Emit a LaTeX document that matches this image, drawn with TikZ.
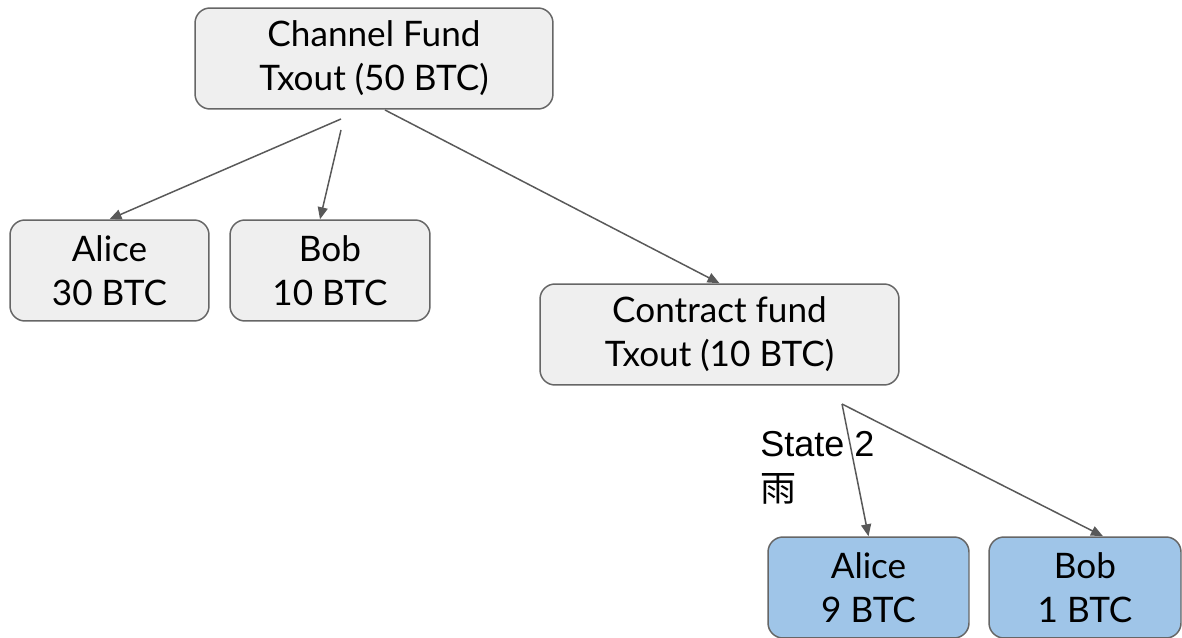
\documentclass[tikz,border=0pt]{standalone}
\usepackage{fontspec}
\setmainfont{Lato}
\newfontfamily\labelfont{Liberation Sans}
\newfontfamily\cjk{Noto Sans CJK SC}
\usetikzlibrary{arrows.meta}

\definecolor{boxgrey}{HTML}{EFEFEF}
\definecolor{boxblue}{HTML}{9FC5E8}
\definecolor{edgegrey}{HTML}{666666}
\definecolor{arrowgrey}{HTML}{595959}

\tikzset{
  txbox/.style={draw=edgegrey, line width=0.85pt, fill=boxgrey, rounded corners=0.3cm,
    align=center, inner sep=0pt, font=\fontsize{20}{25}\selectfont},
  paybox/.style={txbox, fill=boxblue},
  flow/.style={draw=arrowgrey, line width=0.85pt, -{Triangle[length=0.24cm,width=0.2cm]}}
}

\begin{document}
\begin{tikzpicture}[x=0.02cm, y=-0.02cm]
    \useasboundingbox (0,0) rectangle (1182,638);

    \node[txbox, minimum width=7.16cm, minimum height=2.02cm] (fund) at (374,58.5) {Channel Fund\\Txout (50 BTC)};
    \node[txbox, minimum width=3.98cm, minimum height=2.02cm] (alice30) at (109.5,270.5) {Alice\\30 BTC};
    \node[txbox, minimum width=4cm, minimum height=2.02cm] (bob10) at (330,270.5) {Bob\\10 BTC};
    \node[txbox, minimum width=7.18cm, minimum height=2.02cm] (contract) at (719.5,334.5) {Contract fund\\Txout (10 BTC)};

    % payouts of the contract, bottom row runs off the page
    \node[paybox, minimum width=4.02cm, minimum height=2.02cm] (alice9) at (868.5,587.5) {Alice\\9 BTC};
    \node[paybox, minimum width=3.84cm, minimum height=2.02cm] (bob1) at (1085,587.5) {Bob\\1 BTC};

    \node[anchor=north west, align=left, inner sep=0pt, font=\labelfont\fontsize{20.5}{25.5}\selectfont] (state) at (760,431) {State 2\\{\cjk 雨}};

    % free starting points of the arrows
    \coordinate (splitA) at (341,119);
    \coordinate (splitB) at (341,130);
    \coordinate (splitC) at (385,110);
    \coordinate (splitD) at (842,404);

    \draw[flow] (splitA) -- (alice30.north);
    \draw[flow] (splitB) -- ([xshift=-0.2cm]bob10.north);
    \draw[flow] (splitC) -- (contract.north);
    \draw[flow] (splitD) -- (alice9.north);
    \draw[flow] (splitD) -- ([xshift=0.36cm]bob1.north);
\end{tikzpicture}
\end{document}
